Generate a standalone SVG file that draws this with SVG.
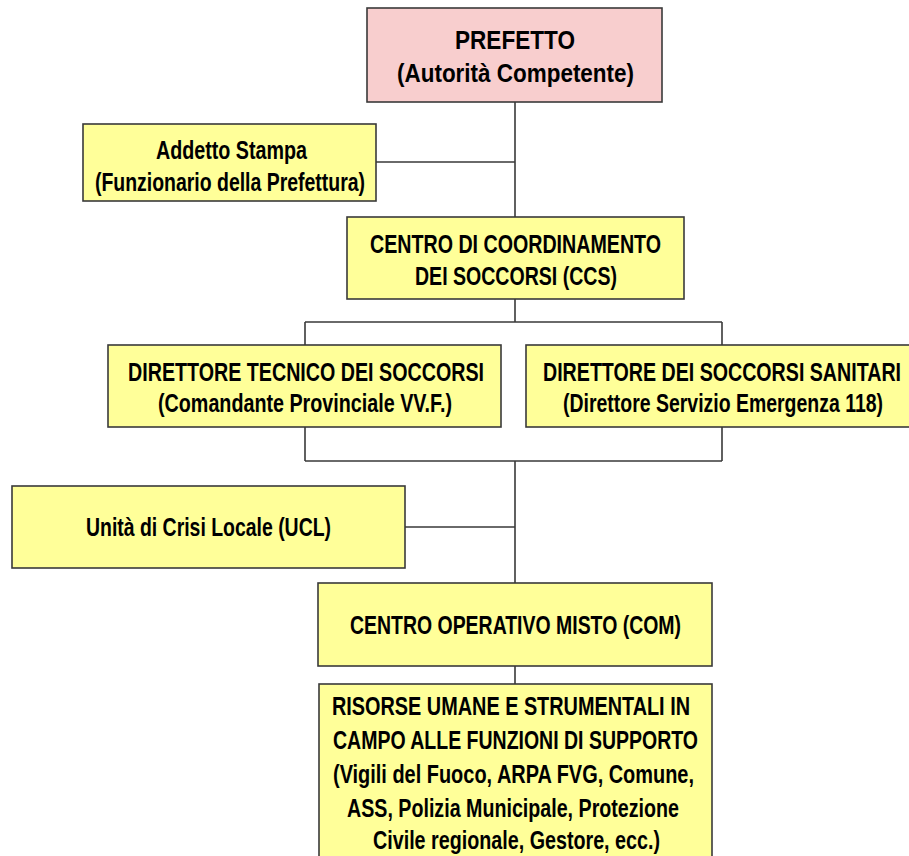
<svg xmlns="http://www.w3.org/2000/svg" width="909" height="856" viewBox="0 0 909 856">
<style>
.box{fill:#FFFF99;stroke:#3a3a3a;stroke-width:1.6}
.pink{fill:#F8CECE;stroke:#3a3a3a;stroke-width:1.6}
.t{font-family:"Liberation Sans",Arial,sans-serif;font-weight:bold;font-size:26px;fill:#000;text-anchor:start}
.c{fill:none;stroke:#3a3a3a;stroke-width:1.6}
</style>
<rect width="909" height="856" fill="#ffffff"/>
<g id="connectors">
<path class="c" d="M515 102V217M376 162H515M515 299V322M305 322H722M305 322V345M722 322V345M305 427V461M722 427V461M305 461H722M515 461V583M405 527H515M515 666V684"/>
</g>
<g id="prefetto">
<rect class="pink" x="367" y="8" width="295" height="94"/>
<text class="t" x="455" y="49" textLength="120" lengthAdjust="spacingAndGlyphs">PREFETTO</text>
<text class="t" x="397" y="82" textLength="237" lengthAdjust="spacingAndGlyphs">(Autorità Competente)</text>
</g>
<g id="addetto">
<rect class="box" x="83" y="124" width="293" height="77"/>
<text class="t" x="156" y="159" textLength="151" lengthAdjust="spacingAndGlyphs">Addetto Stampa</text>
<text class="t" x="95" y="191" textLength="270" lengthAdjust="spacingAndGlyphs">(Funzionario della Prefettura)</text>
</g>
<g id="ccs">
<rect class="box" x="347" y="217" width="337" height="82"/>
<text class="t" x="370" y="253" textLength="291" lengthAdjust="spacingAndGlyphs">CENTRO DI COORDINAMENTO</text>
<text class="t" x="415" y="285" textLength="202" lengthAdjust="spacingAndGlyphs">DEI SOCCORSI (CCS)</text>
</g>
<g id="dts">
<rect class="box" x="108" y="345" width="393" height="82"/>
<text class="t" x="128" y="381" textLength="356" lengthAdjust="spacingAndGlyphs">DIRETTORE TECNICO DEI SOCCORSI</text>
<text class="t" x="158" y="412" textLength="294" lengthAdjust="spacingAndGlyphs">(Comandante Provinciale VV.F.)</text>
</g>
<g id="dss">
<rect class="box" x="526" y="345" width="390" height="82"/>
<text class="t" x="543" y="381" textLength="358" lengthAdjust="spacingAndGlyphs">DIRETTORE DEI SOCCORSI SANITARI</text>
<text class="t" x="563" y="412" textLength="320" lengthAdjust="spacingAndGlyphs">(Direttore Servizio Emergenza 118)</text>
</g>
<g id="ucl">
<rect class="box" x="12" y="486" width="393" height="82"/>
<text class="t" x="86" y="536" textLength="245" lengthAdjust="spacingAndGlyphs">Unità di Crisi Locale (UCL)</text>
</g>
<g id="com">
<rect class="box" x="318" y="583" width="394" height="83"/>
<text class="t" x="350" y="634" textLength="331" lengthAdjust="spacingAndGlyphs">CENTRO OPERATIVO MISTO (COM)</text>
</g>
<g id="risorse">
<rect class="box" x="319" y="684" width="393" height="190"/>
<text class="t" x="332" y="715" textLength="358" lengthAdjust="spacingAndGlyphs">RISORSE UMANE E STRUMENTALI IN</text>
<text class="t" x="333" y="749" textLength="365" lengthAdjust="spacingAndGlyphs">CAMPO ALLE FUNZIONI DI SUPPORTO</text>
<text class="t" x="333" y="783" textLength="361" lengthAdjust="spacingAndGlyphs">(Vigili del Fuoco, ARPA FVG, Comune,</text>
<text class="t" x="347" y="817" textLength="332" lengthAdjust="spacingAndGlyphs">ASS, Polizia Municipale, Protezione</text>
<text class="t" x="373" y="849" textLength="287" lengthAdjust="spacingAndGlyphs">Civile regionale, Gestore, ecc.)</text>
</g>
</svg>
